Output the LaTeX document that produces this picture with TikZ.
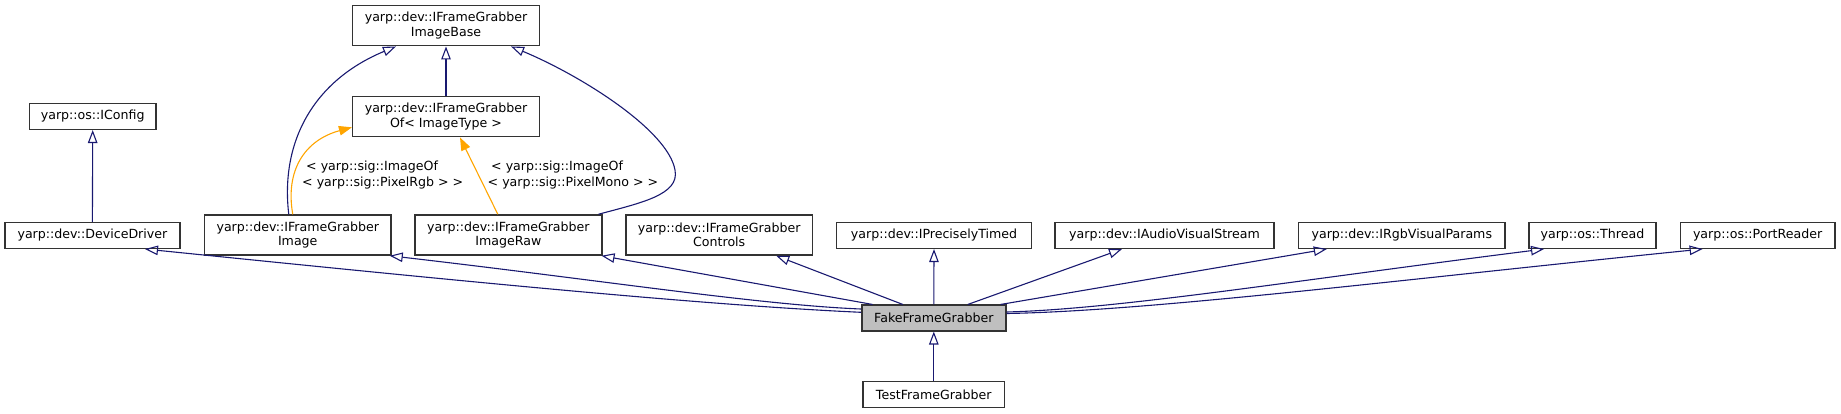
\documentclass[tikz,border=0pt]{standalone}
\usepackage{fontspec}
\setmainfont{DejaVu Sans}
\usetikzlibrary{arrows.meta,calc}
\definecolor{navyc}{HTML}{191970}
\definecolor{orangec}{HTML}{FFA500}
\definecolor{boxc}{HTML}{333333}
\definecolor{fillc}{HTML}{BFBFBF}
\tikzset{
  box/.style={draw=boxc, line width=1.5pt, inner sep=0pt, align=center,
    font=\fontsize{12.6}{14.5}\selectfont, minimum height=25.6pt},
  tbox/.style={box, minimum height=40pt},
  inh/.style={draw=navyc, line width=1.1pt, {Triangle[open,length=13pt,width=9.5pt]}-},
  tmpl/.style={draw=orangec, line width=1.1pt, {Triangle[length=13pt,width=9.5pt]}-},
  lbl/.style={inner sep=0pt, align=left, anchor=west, font=\fontsize{12.6}{16}\selectfont},
}
\begin{document}
\begin{tikzpicture}[x=1pt,y=-1pt]
\useasboundingbox (0,0) rectangle (1841,413);
% nodes
\node[tbox, minimum width=186.6pt] (base) at (446,25.7) {yarp::dev::IFrameGrabber\\ImageBase};
\node[tbox, minimum width=186.6pt] (ofT) at (446,116.7) {yarp::dev::IFrameGrabber\\Of< ImageType >};
\node[box, minimum width=126.3pt] (iconfig) at (92.7,116.5) {yarp::os::IConfig};
\node[box, minimum width=175pt] (devdrv) at (92.4,235.5) {yarp::dev::DeviceDriver};
\node[tbox, minimum width=186.5pt] (image) at (297.75,235) {yarp::dev::IFrameGrabber\\Image};
\node[tbox, minimum width=186.8pt] (imageraw) at (508.4,235) {yarp::dev::IFrameGrabber\\ImageRaw};
\node[tbox, minimum width=186.5pt] (controls) at (719.2,235) {yarp::dev::IFrameGrabber\\Controls};
\node[box, minimum width=194.7pt] (ptimed) at (934,235.5) {yarp::dev::IPreciselyTimed};
\node[box, minimum width=219.2pt] (avs) at (1164.5,235.5) {yarp::dev::IAudioVisualStream};
\node[box, minimum width=206.5pt] (rgb) at (1401.8,235.5) {yarp::dev::IRgbVisualParams};
\node[box, minimum width=126.8pt] (thread) at (1592.4,235.5) {yarp::os::Thread};
\node[box, minimum width=154.6pt] (portreader) at (1757.6,235.5) {yarp::os::PortReader};
\node[box, fill=fillc, minimum width=144pt] (ffg) at (933.8,318) {FakeFrameGrabber};
\node[box, minimum width=141.5pt] (test) at (933.8,394.5) {TestFrameGrabber};
% labels
\node[lbl] (lblrgb) at (302,175) {\hspace*{4pt}< yarp::sig::ImageOf\\< yarp::sig::PixelRgb > >};
\node[lbl] (lblmono) at (487.5,175) {\hspace*{3.5pt}< yarp::sig::ImageOf\\< yarp::sig::PixelMono > >};
% edges top part
\draw[inh] (iconfig.south) -- (devdrv.north);
\draw[inh] (base.south) -- (ofT.north);
\draw[inh] ([xshift=44pt]base.south west) .. controls (315,80) and (280,140) .. ([xshift=-9pt]image.north);
\draw[inh] ([xshift=-29pt]base.south east) .. controls (580,75) and (668,130) .. (675,170)
   .. controls (680,195) and (640,203) .. ([xshift=-4pt]imageraw.north east);
\draw[tmpl] ($(ofT.west)+(0,10.6)$) .. controls (305,140) and (285,170) .. ([xshift=-5pt]image.north);
\draw[tmpl] ([xshift=14pt]ofT.south) -- ([xshift=-10.6pt]imageraw.north);
% edges to FakeFrameGrabber
\draw[inh] ([xshift=52.6pt]devdrv.south) .. controls (450,280) and (700,305) .. ($(ffg.west)+(0,-5.7)$);
\draw[inh] ([xshift=-2pt]image.south east) .. controls (600,280) and (760,305) .. ($(ffg.west)+(0,-9)$);
\draw[inh] ([xshift=-1pt]imageraw.south east) -- ([xshift=11.5pt]ffg.north west);
\draw[inh] ([xshift=57pt]controls.south) -- ([xshift=-31pt]ffg.north);
\draw[inh] (ptimed.south) -- (ffg.north);
\draw[inh] ([xshift=-42.5pt]avs.south) -- ([xshift=34pt]ffg.north);
\draw[inh] ([xshift=-75pt]rgb.south) -- ([xshift=-6pt]ffg.north east);
\draw[inh] ([xshift=-48.4pt]thread.south) .. controls (1300,279.7) and (1120,309) .. ($(ffg.east)+(0,-6)$);
\draw[inh] ([xshift=-55pt]portreader.south) .. controls (1400,279.6) and (1150,311) .. ($(ffg.east)+(0,-4.5)$);
\draw[inh] (ffg.south) -- (test.north);
\end{tikzpicture}
\end{document}
